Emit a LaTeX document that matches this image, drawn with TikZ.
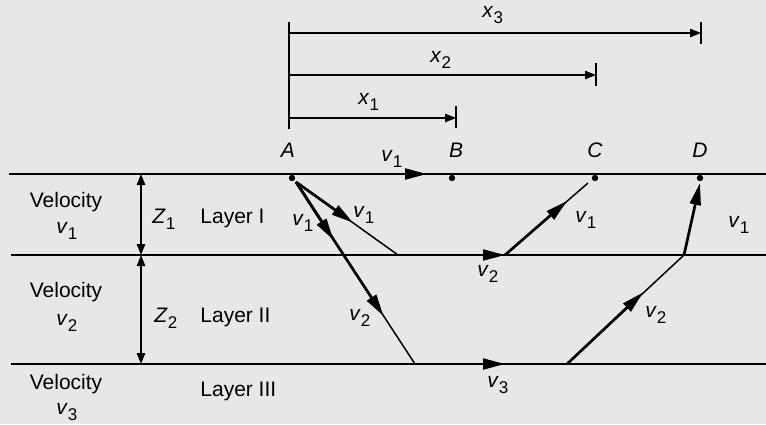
\documentclass[tikz,border=0pt]{standalone}
\usepackage{fontspec}
\setmainfont{Liberation Sans}
\usetikzlibrary{arrows.meta}
\definecolor{bgc}{RGB}{230,231,233}
\newcommand\sv[2]{\textit{#1}\raisebox{-3.3pt}{\fontsize{8.5}{10}\selectfont #2}}
\begin{document}
\begin{tikzpicture}[x=0.5pt,y=-0.5pt,
  font=\fontsize{10.5}{12}\selectfont,
  thinline/.style={line width=0.75pt},
  ray/.style={line width=1.35pt, -{Triangle[length=11pt,width=5.4pt]}},
  dimarrow/.style={line width=0.75pt, -{Triangle[length=5.5pt,width=4.2pt]}},
  zdim/.style={line width=0.75pt, {Triangle[length=5.5pt,width=4.2pt]}-{Triangle[length=5.5pt,width=4.2pt]}},
  lbl/.style={inner sep=0pt, anchor=base west},
  ctr/.style={inner sep=0pt, anchor=base}]
\useasboundingbox (0,0) rectangle (766,424);
\fill[bgc] (0,0) rectangle (766,424);
% coordinates
\coordinate (sL) at (9,174);   \coordinate (sR) at (766,174);
\coordinate (iL) at (11,255);  \coordinate (iR) at (766,255);
\coordinate (jL) at (11,364);  \coordinate (jR) at (766,364);
\coordinate (A) at (292,178); \coordinate (B) at (452,178);
\coordinate (C) at (595,178); \coordinate (D) at (700,178);
\coordinate (A0) at (296,182);
\coordinate (P1) at (398,255); \coordinate (P2) at (505,255);
\coordinate (Ce) at (588,183);
\coordinate (Q1) at (415,364); \coordinate (Q2) at (505,364);
\coordinate (Q3) at (567,364); \coordinate (Q4) at (684,255);
\coordinate (De) at (700,183);
\coordinate (s1) at (302,174); \coordinate (s2) at (427,174);
\coordinate (r1a) at (353,222.7);
\coordinate (r2a) at (333.5,240); \coordinate (r2b) at (383.5,316);
\coordinate (cu) at (567,201); \coordinate (du) at (643,292.5);
% interfaces
\draw[thinline] (sL) -- (sR);
\draw[thinline] (iL) -- (iR);
\draw[thinline] (jL) -- (jR);
% dots
\foreach \p in {A,B,C,D} \fill (\p) circle[radius=1.6pt];
% dimension lines
\coordinate (vt) at (289,22); \coordinate (vb) at (289,129);
\draw[thinline] (vt) -- (vb);
\coordinate (x3s) at (289,33); \coordinate (x3e) at (701,33);
\coordinate (x2s) at (289,75); \coordinate (x2e) at (596,75);
\coordinate (x1s) at (289,118); \coordinate (x1e) at (456,118);
\draw[dimarrow] (x3s) -- (x3e);
\draw[dimarrow] (x2s) -- (x2e);
\draw[dimarrow] (x1s) -- (x1e);
\coordinate (t3a) at (701,22); \coordinate (t3b) at (701,44);
\coordinate (t2a) at (596,63); \coordinate (t2b) at (596,86);
\coordinate (t1a) at (456,106); \coordinate (t1b) at (456,128);
\draw[thinline] (t3a) -- (t3b);
\draw[thinline] (t2a) -- (t2b);
\draw[thinline] (t1a) -- (t1b);
% Z dims
\coordinate (z0) at (141,174); \coordinate (z1) at (141,255); \coordinate (z2) at (141,364);
\draw[zdim] (z0) -- (z1);
\draw[zdim] (z1) -- (z2);
% thin ray paths
\draw[thinline] (A0) -- (P1);
\draw[thinline] (P2) -- (Ce);
\draw[thinline] (A0) -- (Q1);
\draw[thinline] (Q3) -- (Q4);
% thick arrows
\draw[ray] (s1) -- (s2);
\draw[ray] (A0) -- (r1a);
\draw[ray] (P1) -- (P2);
\draw[ray] (P2) -- (cu);
\draw[ray] (A0) -- (r2a);
\draw[ray] (A0) -- (r2b);
\draw[ray] (Q1) -- (Q2);
\draw[ray] (Q3) -- (du);
\draw[ray] (Q4) -- (De);
% labels
\node[lbl] (lx3) at (482,17) {\sv{x}{3}};
\node[lbl] (lx2) at (430,62) {\sv{x}{2}};
\node[lbl] (lx1) at (358,104) {\sv{x}{1}};
\node[ctr] (lA) at (288,157) {\textit{A}};
\node[ctr] (lB) at (456,157) {\textit{B}};
\node[ctr] (lC) at (595,157) {\textit{C}};
\node[ctr] (lD) at (700,157) {\textit{D}};
\node[lbl] (lv1s) at (381,161) {\sv{v}{1}};
\node[lbl] (lv1a) at (353,217) {\sv{v}{1}};
\node[lbl] (lv1b) at (292,225) {\sv{v}{1}};
\node[lbl] (lv2a) at (477,276) {\sv{v}{2}};
\node[lbl] (lv1c) at (575,222) {\sv{v}{1}};
\node[lbl] (lv1d) at (728,227) {\sv{v}{1}};
\node[lbl] (lv2b) at (349,320) {\sv{v}{2}};
\node[lbl] (lv3) at (487,387) {\sv{v}{3}};
\node[lbl] (lv2c) at (645,317) {\sv{v}{2}};
\node[lbl] (lZ1) at (152,223) {\sv{Z}{1}};
\node[lbl] (lZ2) at (154,322) {\sv{Z}{2}};
\node[lbl] (lL1) at (200,223) {Layer I};
\node[lbl] (lL2) at (200,322) {Layer II};
\node[lbl] (lL3) at (200,396) {Layer III};
\node[ctr] (vel1) at (66,207) {Velocity};
\node[lbl] (vv1) at (56,233) {\sv{v}{1}};
\node[ctr] (vel2) at (66,297) {Velocity};
\node[lbl] (vv2) at (56,325) {\sv{v}{2}};
\node[ctr] (vel3) at (66,389) {Velocity};
\node[lbl] (vv3) at (56,414) {\sv{v}{3}};
\end{tikzpicture}
\end{document}
